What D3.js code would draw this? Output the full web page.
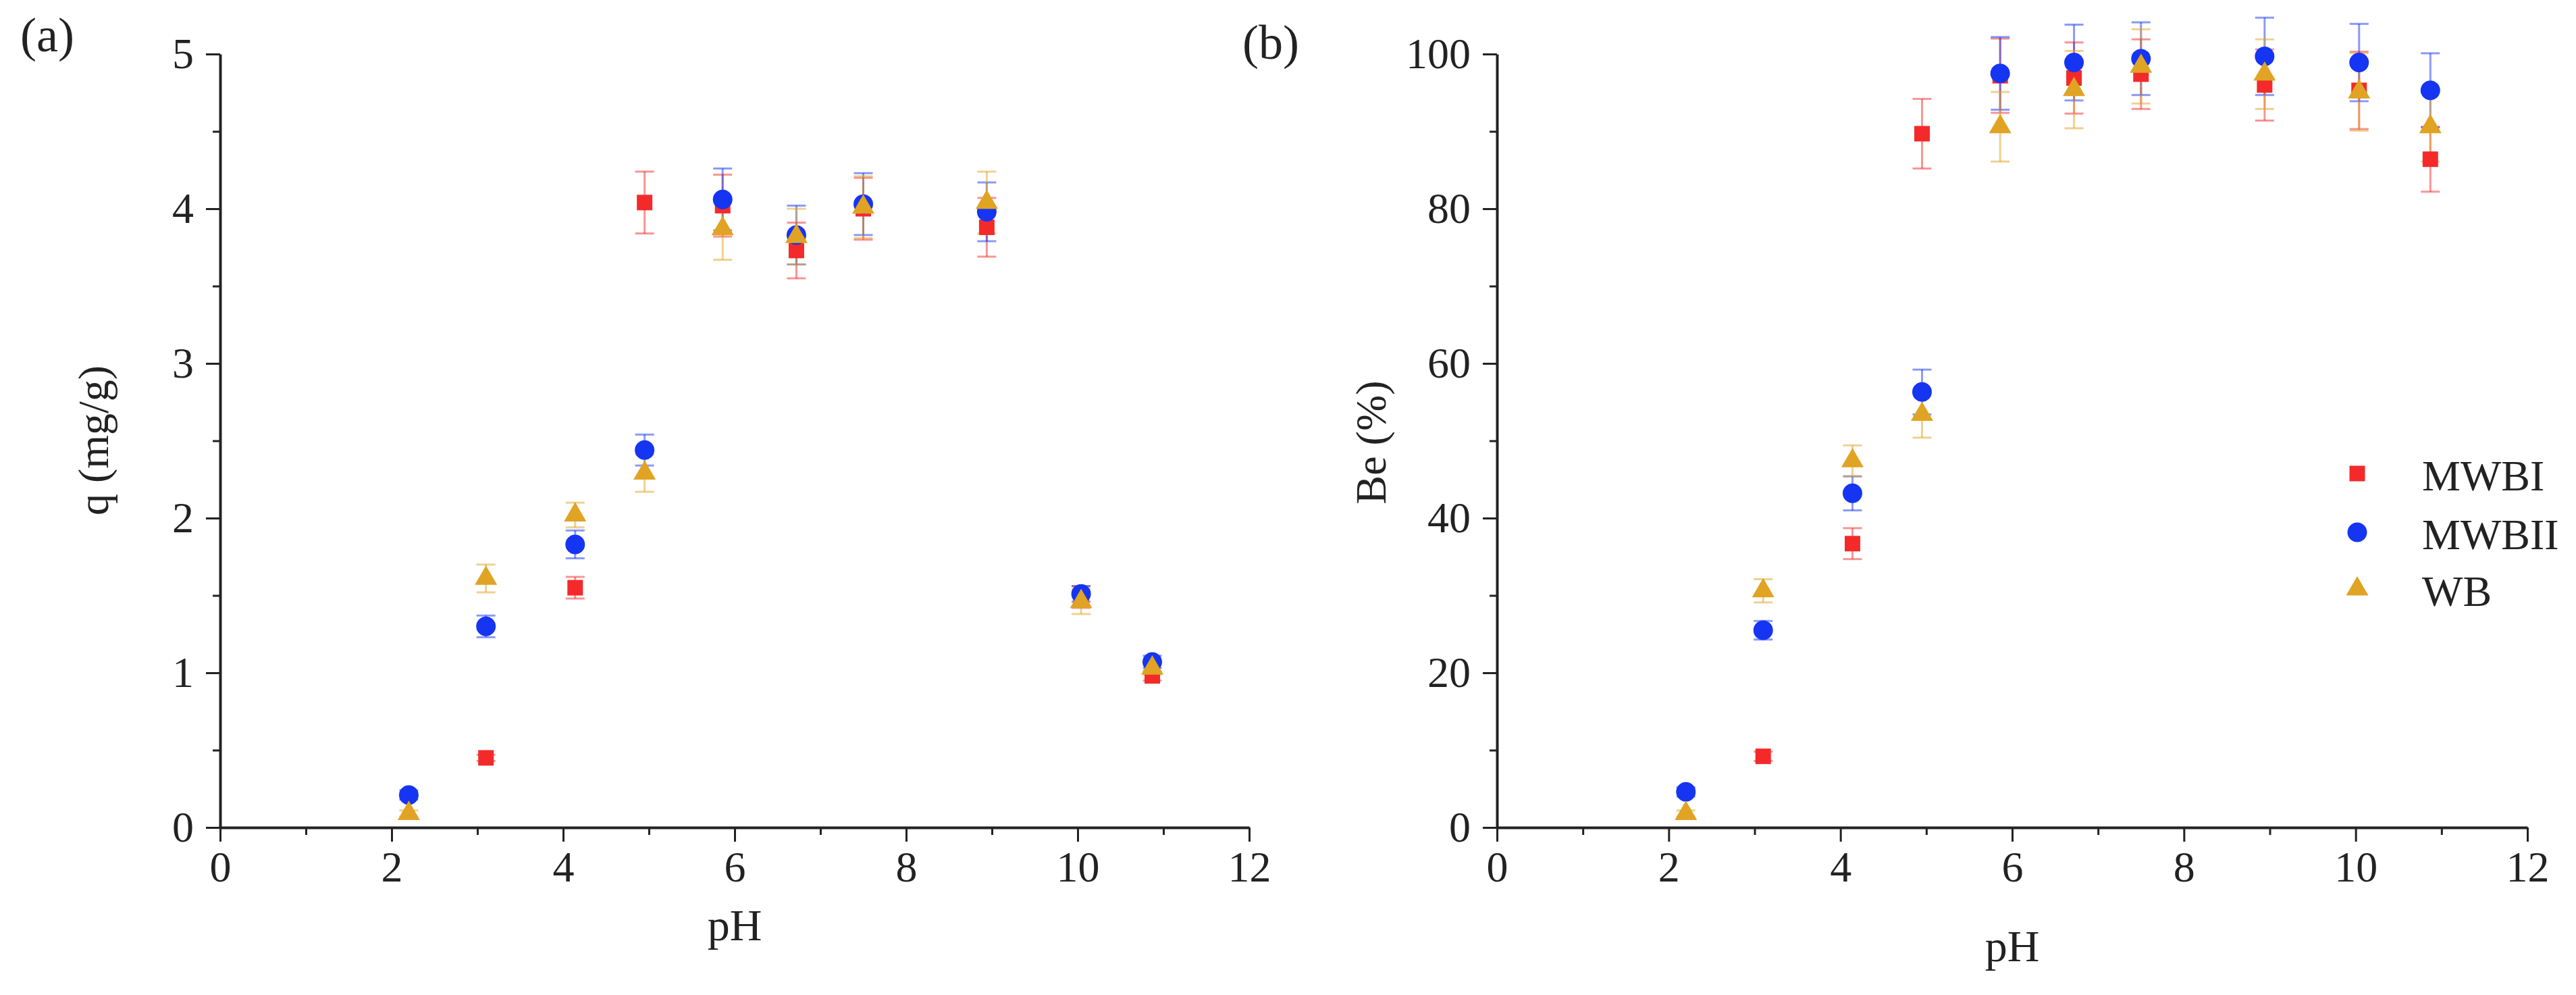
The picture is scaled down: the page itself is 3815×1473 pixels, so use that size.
<!DOCTYPE html>
<html>
<head>
<meta charset="utf-8">
<script src="https://cdn.jsdelivr.net/npm/d3@7"></script>
<style>
  html, body { margin: 0; padding: 0; background: #ffffff; }
  svg { display: block; }
  text { font-family: "Liberation Serif", "Times New Roman", serif; fill: #222; }
</style>
</head>
<body>
<script>
// ---------- data ----------
const pH = [2.2, 3.1, 4.14, 4.95, 5.86, 6.72, 7.5, 8.94, 10.04, 10.87];
const seriesNames = ["MWBI", "MWBII", "WB"];

// panel (a): q (mg/g)
const qMWBI      = [null, 0.45, 1.55, 4.04, 4.02, 3.73, 4.00, 3.88, 1.49, 0.98];
const qMWBIErr   = [null, 0.02, 0.07, 0.20, 0.20, 0.18, 0.20, 0.19, 0.07, 0.03];
const qMWBII     = [0.21, 1.30, 1.83, 2.44, 4.06, 3.83, 4.03, 3.98, 1.51, 1.07];
const qMWBIIErr  = [0.03, 0.07, 0.09, 0.10, 0.20, 0.19, 0.20, 0.19, 0.05, 0.04];
const qWB        = [0.09, 1.61, 2.02, 2.29, 3.87, 3.82, 4.01, 4.04, 1.46, 1.03];
const qWBErr     = [0.02, 0.09, 0.08, 0.12, 0.20, 0.18, 0.20, 0.20, 0.08, 0.04];

// panel (b): Be (%)
const beMWBI     = [null, 9.2, 36.7, 89.7, 97.2, 96.9, 97.4, 96.0, 95.3, 86.4];
const beMWBIErr  = [null, 0.6, 2.0, 4.5, 4.8, 4.6, 4.5, 4.6, 5.0, 4.2];
const beMWBII    = [4.6, 25.5, 43.2, 56.3, 97.5, 98.9, 99.4, 99.7, 98.9, 95.3];
const beMWBIIErr = [0.6, 1.2, 2.2, 2.9, 4.7, 4.9, 4.7, 5.0, 5.0, 4.8];
const beWB       = [1.8, 30.6, 47.4, 53.4, 90.6, 95.4, 98.4, 97.4, 95.1, 90.6];
const beWBErr    = [0.4, 1.5, 2.0, 3.0, 4.5, 5.0, 4.8, 4.5, 5.0, 4.5];

const xMajorTicks = [0, 2, 4, 6, 8, 10, 12];
const xMinorTicks = [1, 3, 5, 7, 9, 11];
const yMajorTicksA = [0, 1, 2, 3, 4, 5];
const yMinorTicksA = [0.5, 1.5, 2.5, 3.5, 4.5];
const yMajorTicksB = [0, 20, 40, 60, 80, 100];
const yMinorTicksB = [10, 30, 50, 70, 90];

// ---------- styles ----------
const colors = { MWBI: "#f42a2a", MWBII: "#1535f2", WB: "#e0a323" };
const symbols = { MWBI: d3.symbolSquare, MWBII: d3.symbolCircle, WB: d3.symbolTriangle };
const symSizes = { MWBI: 529, MWBII: 660, WB: 472 };

const W = 3815, H = 1473;
const svg = d3.select("body").append("svg").attr("width", W).attr("height", H);
svg.append("rect").attr("width", W).attr("height", H).attr("fill", "#ffffff");

function panel(cfg) {
  const x = d3.scaleLinear().domain([0, 12]).range(cfg.xRange);
  const y = d3.scaleLinear().domain(cfg.yDomain).range([1225, 80]);
  const g = svg.append("g");
  const fmt = d3.format("d");

  // minor ticks
  g.append("g").attr("transform", `translate(0,${y(0)})`)
    .call(d3.axisBottom(x).tickValues(xMinorTicks).tickSize(11).tickSizeOuter(0).tickFormat(""))
    .call(s => s.select(".domain").remove())
    .call(s => s.selectAll("line").attr("stroke", "#222").attr("stroke-width", 3));
  g.append("g").attr("transform", `translate(${x(0)},0)`)
    .call(d3.axisLeft(y).tickValues(cfg.yMinor).tickSize(11).tickSizeOuter(0).tickFormat(""))
    .call(s => s.select(".domain").remove())
    .call(s => s.selectAll("line").attr("stroke", "#222").attr("stroke-width", 3));

  // major axes
  g.append("g").attr("transform", `translate(0,${y(0)})`)
    .call(d3.axisBottom(x).tickValues(xMajorTicks).tickFormat(fmt).tickSize(21).tickPadding(14).tickSizeOuter(0))
    .call(s => s.select(".domain").attr("stroke", "#222").attr("stroke-width", 4))
    .call(s => s.selectAll("line").attr("stroke", "#222").attr("stroke-width", 3))
    .call(s => s.selectAll("text").attr("font-size", 64).attr("fill", "#222"));
  g.append("g").attr("transform", `translate(${x(0)},0)`)
    .call(d3.axisLeft(y).tickValues(cfg.yMajor).tickFormat(fmt).tickSize(21).tickPadding(18).tickSizeOuter(0))
    .call(s => s.select(".domain").attr("stroke", "#222").attr("stroke-width", 4))
    .call(s => s.selectAll("line").attr("stroke", "#222").attr("stroke-width", 3))
    .call(s => s.selectAll("text").attr("font-size", 64).attr("fill", "#222"));

  // error bars (all series first)
  cfg.series.forEach(sr => {
    const pts = pH.map((p, i) => ({ p, v: sr.values[i], e: sr.errs[i] })).filter(d => d.v != null);
    const eg = g.append("g").attr("stroke", colors[sr.name]).attr("stroke-opacity", 0.5).attr("stroke-width", 3);
    pts.forEach(d => {
      const cx = x(d.p), y1 = y(d.v + d.e), y2 = y(d.v - d.e);
      eg.append("line").attr("x1", cx).attr("x2", cx).attr("y1", y1).attr("y2", y2);
      eg.append("line").attr("x1", cx - 14).attr("x2", cx + 14).attr("y1", y1).attr("y2", y1);
      eg.append("line").attr("x1", cx - 14).attr("x2", cx + 14).attr("y1", y2).attr("y2", y2);
    });
  });

  // markers
  cfg.series.forEach(sr => {
    const pts = pH.map((p, i) => ({ p, v: sr.values[i] })).filter(d => d.v != null);
    g.append("g").selectAll("path").data(pts).join("path")
      .attr("d", d3.symbol().type(symbols[sr.name]).size(symSizes[sr.name]))
      .attr("transform", d => `translate(${x(d.p)},${y(d.v)})`)
      .attr("fill", colors[sr.name]);
  });

  // titles
  svg.append("text").attr("x", (cfg.xRange[0] + cfg.xRange[1]) / 2).attr("y", cfg.xTitleY)
    .attr("text-anchor", "middle").attr("font-size", 66).text("pH");
  svg.append("text").attr("transform", `translate(${cfg.yTitleX},${cfg.yTitleCY}) rotate(-90)`)
    .attr("text-anchor", "middle").attr("font-size", 64).text(cfg.yTitle);
  svg.append("text").attr("x", cfg.labelX).attr("y", cfg.labelY).attr("font-size", 72).text(cfg.label);
}

panel({
  xRange: [326, 1850], yDomain: [0, 5], yMajor: yMajorTicksA, yMinor: yMinorTicksA,
  xTitleY: 1392, yTitleX: 160, yTitleCY: 652, yTitle: "q (mg/g)",
  label: "(a)", labelX: 30, labelY: 76,
  series: [
    { name: "MWBI", values: qMWBI, errs: qMWBIErr },
    { name: "MWBII", values: qMWBII, errs: qMWBIIErr },
    { name: "WB", values: qWB, errs: qWBErr }
  ]
});

panel({
  xRange: [2217, 3743], yDomain: [0, 100], yMajor: yMajorTicksB, yMinor: yMinorTicksB,
  xTitleY: 1423, yTitleX: 2052, yTitleCY: 655, yTitle: "Be (%)",
  label: "(b)", labelX: 1840, labelY: 87,
  series: [
    { name: "MWBI", values: beMWBI, errs: beMWBIErr },
    { name: "MWBII", values: beMWBII, errs: beMWBIIErr },
    { name: "WB", values: beWB, errs: beWBErr }
  ]
});

// legend
const legY = [701, 788, 872];
const leg = svg.append("g");
seriesNames.forEach((n, i) => {
  leg.append("path").attr("d", d3.symbol().type(symbols[n]).size(symSizes[n]))
    .attr("transform", `translate(3491,${legY[i]})`).attr("fill", colors[n]);
  leg.append("text").attr("x", 3587).attr("y", legY[i] + 25).attr("font-size", 64).text(n);
});
</script>
</body>
</html>
